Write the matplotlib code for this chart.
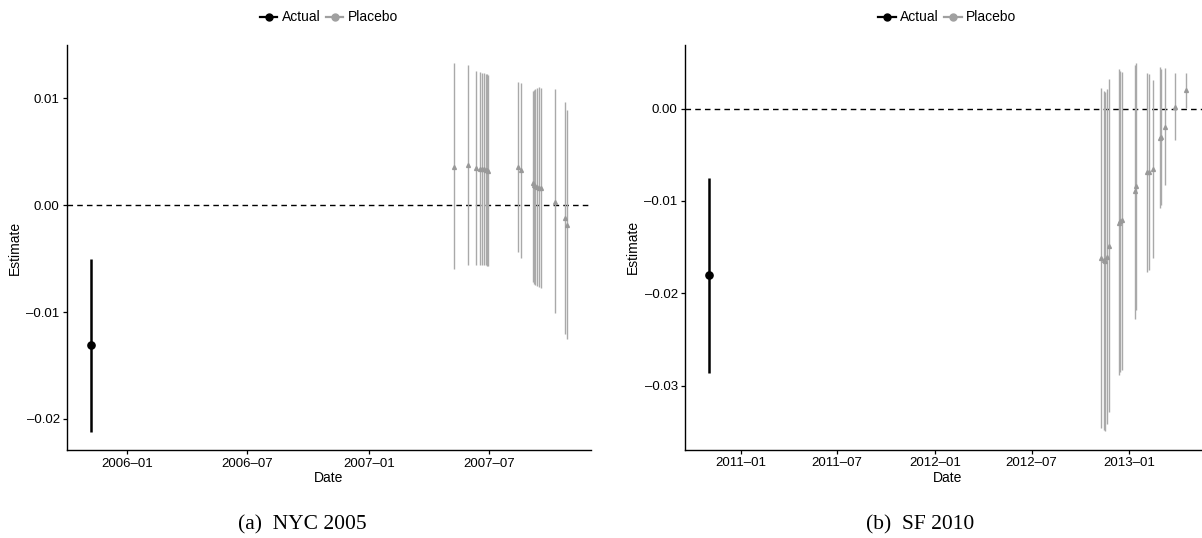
import numpy as np
import pandas as pd
import matplotlib
matplotlib.use("Agg")
import matplotlib.pyplot as plt
import matplotlib.dates as mdates
from matplotlib.lines import Line2D
from matplotlib.ticker import FuncFormatter

plt.rcParams['font.family'] = ['Liberation Sans', 'DejaVu Sans']

# ---- NYC 2005 ----
nyc_actual_date = ["2005-11-07"]
nyc_actual_est = [-0.01306]
nyc_actual_lo = [-0.02118]
nyc_actual_hi = [-0.00500]

nyc_placebo_date = ["2007-05-09", "2007-05-30", "2007-06-11", "2007-06-18", "2007-06-21",
                    "2007-06-23", "2007-06-26", "2007-06-28", "2007-06-30", "2007-08-13",
                    "2007-08-18", "2007-09-05", "2007-09-07", "2007-09-09", "2007-09-12",
                    "2007-09-14", "2007-09-17", "2007-10-09", "2007-10-23", "2007-10-27"]
nyc_placebo_est = [0.00363, 0.00375, 0.00350, 0.00344, 0.00340, 0.00337, 0.00334, 0.00328,
                   0.00325, 0.00363, 0.00328, 0.00209, 0.00187, 0.00178, 0.00172, 0.00166,
                   0.00162, 0.00031, -0.00115, -0.00185]
nyc_placebo_lo = [-0.00593, -0.00562, -0.00562, -0.00562, -0.00562, -0.00562, -0.00562,
                  -0.00569, -0.00569, -0.00438, -0.00490, -0.00719, -0.00734, -0.00743,
                  -0.00753, -0.00766, -0.00772, -0.01006, -0.01202, -0.01256]
nyc_placebo_hi = [0.01328, 0.01310, 0.01256, 0.01244, 0.01240, 0.01234, 0.01228, 0.01225,
                  0.01218, 0.01153, 0.01140, 0.01071, 0.01078, 0.01084, 0.01100, 0.01103,
                  0.01094, 0.01084, 0.00965, 0.00890]

# ---- SF 2010 ----
sf_actual_date = ["2010-11-01"]
sf_actual_est = [-0.01804]
sf_actual_lo = [-0.02860]
sf_actual_hi = [-0.00752]

sf_placebo_date = ["2012-11-08", "2012-11-15", "2012-11-17", "2012-11-20", "2012-11-24",
                   "2012-12-12", "2012-12-15", "2012-12-19", "2013-01-12", "2013-01-14",
                   "2013-02-03", "2013-02-07", "2013-02-15", "2013-02-27", "2013-03-02",
                   "2013-03-09", "2013-03-28", "2013-04-17"]
sf_placebo_est = [-0.01619, -0.01638, -0.01645, -0.01608, -0.01483, -0.01233, -0.01222,
                  -0.01207, -0.00897, -0.00835, -0.00691, -0.00691, -0.00654, -0.00318,
                  -0.00311, -0.00198, 0.00014, 0.00195]
sf_placebo_lo = [-0.03457, -0.03474, -0.03489, -0.03409, -0.03283, -0.02877, -0.02849,
                 -0.02823, -0.02281, -0.02180, -0.01771, -0.01746, -0.01619, -0.01077,
                 -0.01041, -0.00828, -0.00344, 0.00008]
sf_placebo_hi = [0.00225, 0.00188, 0.00177, 0.00214, 0.00315, 0.00423, 0.00409, 0.00398,
                 0.00466, 0.00488, 0.00387, 0.00369, 0.00304, 0.00448, 0.00431, 0.00434,
                 0.00380, 0.00380]

captions = ["(a)  NYC 2005", "(b)  SF 2010"]

W, H = 1202, 538
fig = plt.figure(figsize=(W / 100, H / 100), dpi=100)

# axes boxes in pixels (left, top, right, bottom) - right panel runs past the edge
boxes = [(67.3, 45, 590.5, 450), (685.3, 45, 1209, 449.5)]
cap_x = [302.3, 920.5]

panels = [
    (nyc_actual_date, nyc_actual_est, nyc_actual_lo, nyc_actual_hi,
     nyc_placebo_date, nyc_placebo_est, nyc_placebo_lo, nyc_placebo_hi),
    (sf_actual_date, sf_actual_est, sf_actual_lo, sf_actual_hi,
     sf_placebo_date, sf_placebo_est, sf_placebo_lo, sf_placebo_hi),
]

grey = '#a9a9a9'


def minus_fmt(v, pos):
    s = "%.2f" % v
    return s.replace("-", "\u2013")


for i, (ad, ae, alo, ahi, pd_, pe, plo, phi) in enumerate(panels):
    l, t, r, b = boxes[i]
    ax = fig.add_axes([l / W, 1 - b / H, (r - l) / W, (b - t) / H])

    a_dates = pd.to_datetime(ad)
    p_dates = pd.to_datetime(pd_)

    ax.axhline(0, color='black', lw=1.0, ls=(0, (4, 3)), zorder=1)
    ax.vlines(p_dates, plo, phi, color=grey, lw=1.0, zorder=2)
    ax.plot(p_dates, pe, ls='none', marker='^', ms=2.8, color='#999999', zorder=3)
    ax.vlines(a_dates, alo, ahi, color='black', lw=1.8, zorder=4)
    ax.plot(a_dates, ae, ls='none', marker='o', ms=5.2, color='black', zorder=5)

    # ggplot-style 5% expansion
    all_d = np.concatenate([a_dates.values, p_dates.values]).astype('datetime64[D]')
    dmin, dmax = all_d.min(), all_d.max()
    pad = (dmax - dmin) * 0.05
    ax.set_xlim(mdates.date2num(dmin - pad), mdates.date2num(dmax + pad))
    lo = min(min(alo), min(plo))
    hi = max(max(ahi), max(phi))
    ax.set_ylim(lo - 0.05 * (hi - lo), hi + 0.05 * (hi - lo))

    ax.xaxis.set_major_locator(mdates.MonthLocator(bymonth=[1, 7]))
    ax.xaxis.set_major_formatter(mdates.DateFormatter('%Y\u2013%m'))
    ax.yaxis.set_major_locator(plt.MultipleLocator(0.01))
    ax.yaxis.set_major_formatter(FuncFormatter(minus_fmt))

    for s in ['top', 'right']:
        ax.spines[s].set_visible(False)
    for s in ['left', 'bottom']:
        ax.spines[s].set_linewidth(1.0)
    ax.tick_params(direction='out', length=3, width=0.9, labelsize=9.5, pad=2.5,
                   colors='black')

    ax.set_xlabel('Date', fontsize=10)
    ax.set_ylabel('Estimate', fontsize=10)
    ax.xaxis.set_label_coords(0.5, -0.052)
    ax.yaxis.set_label_coords(-0.0865, 0.5)

    handles = [Line2D([], [], color='black', lw=1.6, marker='o', ms=5),
               Line2D([], [], color='#a0a0a0', lw=1.6, marker='o', ms=5)]
    ax.legend(handles, ['Actual', 'Placebo'], loc='center',
              bbox_to_anchor=(0.5, 1.068), ncol=2, frameon=False, fontsize=10,
              handlelength=1.25, handletextpad=0.3, columnspacing=0.4,
              borderaxespad=0)

    fig.text(cap_x[i] / W, 1 - 525 / H, captions[i], ha='center', va='center',
             fontsize=15.5, family=['Liberation Serif', 'DejaVu Serif'])

fig.savefig('out.png', dpi=100)
